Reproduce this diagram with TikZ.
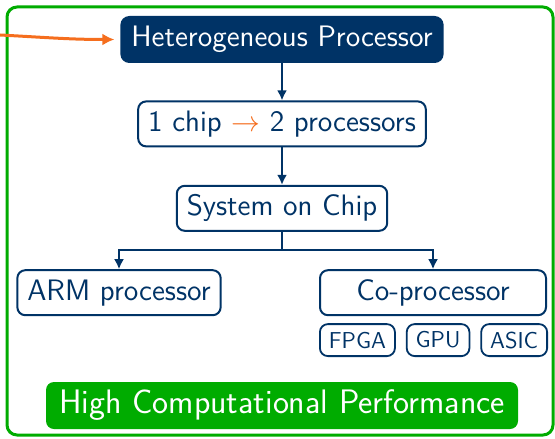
\documentclass[tikz,border=0pt]{standalone}
\usepackage{amsmath}
\usepackage{tikz}
\usetikzlibrary{arrows.meta,positioning}
\definecolor{navy}{RGB}{0,51,102}
\definecolor{hpgreen}{RGB}{0,172,0}
\definecolor{chiporange}{RGB}{245,110,30}
\newcommand{\tto}{\textcolor{chiporange}{$\rightarrow$}}

\begin{document}
\begin{tikzpicture}[x=0.5pt,y=-0.5pt,grow=down,
font=\sffamily\fontsize{14.8}{17}\selectfont,
every node/.style={rounded corners=4pt, minimum height=22.5pt, inner xsep=5pt},
box/.style={draw=navy, line width=1pt, text=navy, fill=white},
small/.style={box, font=\sffamily\fontsize{11.5}{13}\selectfont, minimum height=16pt, inner xsep=4.5pt, line width=0.9pt},
edge from parent/.style={draw=navy, line width=1pt, -{Latex[length=5pt,width=5pt]}},
edge from parent path={(\tikzparentnode.south) -- +(0,-9pt) -| (\tikzchildnode.north)}]
\useasboundingbox (0,0) rectangle (555,438);
\def\lvl{42.2pt}
% outer frame
\draw[hpgreen, line width=1.5pt, rounded corners=5pt] (7,7) rectangle (553,435);

\node[box, fill=navy, text=white, minimum width=159.5pt] (het) at (282,39.5) {Heterogeneous Processor} [level distance=\lvl]
	child {node[box] (chip) {1 chip \tto{} 2 processors}
		child {node[box] (soc) {System on Chip} [sibling distance=157pt]
			child[xshift=-3pt] {node[box, minimum width=100pt] (arm) {ARM processor}}
			child[xshift=-3pt] {node[box, minimum width=113pt] (cop) {Co-processor}}}};

%kinds of co-processor
\node[small, below right=3.5pt and 0pt of cop.south west] (fpga) {FPGA};
\node[small, right=5pt of fpga] (gpu) {GPU};
\node[small, right=5pt of gpu] (asic) {ASIC};

\node[fill=hpgreen, text=white, font=\sffamily\fontsize{17}{20}\selectfont, minimum width=236pt, minimum height=23.5pt] (hcp) at (282,405.5) {High Computational Performance};

%incoming arrow
\coordinate (src) at (0,35);
\draw[chiporange, line width=1.5pt, -{Latex[length=6pt,width=6pt]}] (src) to[out=-3, in=180] ([xshift=-3pt]het.west);
\end{tikzpicture}
\end{document}
